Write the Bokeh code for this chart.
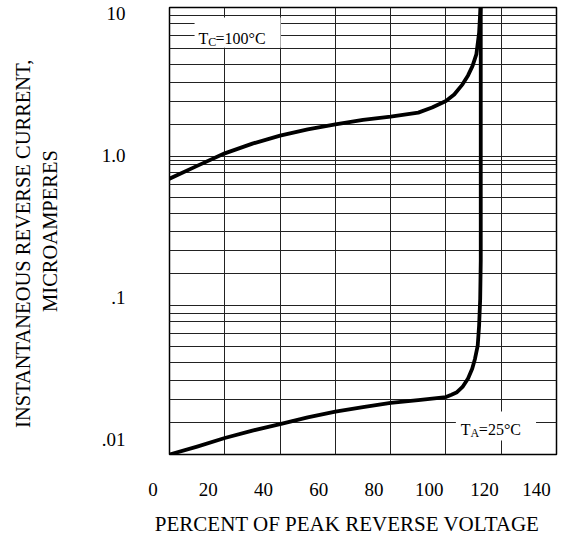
from bokeh.plotting import figure
from bokeh.models import (Range1d, LogScale, LinearAxis, LogAxis, FixedTicker, Grid,
                          BoxAnnotation, Label)
from bokeh.embed import file_html
from bokeh.resources import INLINE

# ---- data ----
tc_x = [0, 10, 20, 30, 40, 50, 60, 70, 80, 90, 95, 100, 103, 106, 108, 109.6, 111, 112, 112.5]
tc_y = [0.71, 0.865, 1.05, 1.22, 1.38, 1.52, 1.64, 1.76, 1.85, 1.97, 2.13, 2.36, 2.61, 3.05,
        3.5, 4.04, 4.84, 6.77, 10]

ta_x = [0, 10, 20, 30, 40, 50, 60, 70, 80, 90, 100, 102, 104, 106, 108, 109.5, 110.5, 111.5,
        112.0, 112.4, 112.6, 112.6]
ta_y = [0.01, 0.0113, 0.0129, 0.01445, 0.016, 0.01775, 0.0194, 0.0208, 0.0222, 0.0232, 0.0243,
        0.0252, 0.0262, 0.0284, 0.0324, 0.0376, 0.0438, 0.0538, 0.0733, 0.111, 0.2, 10]

x_ticks = [0, 20, 40, 60, 80, 100, 120, 140]
y_ticks = [0.01, 0.1, 1.0, 10.0]
y_tick_labels = [".01", ".1", "1.0", "10"]
x_grid = [20, 40, 60, 80, 100, 120]
decade_tops = [1.0, 0.1, 0.01]
decade_lines = [8.77, 7.78, 6.52, 5.27, 4.12, 3.12, 2.33, 1.63]
extra_y_lines = [0.94]

FONT = "Liberation Serif"
NB = "\u00a0"   # the original prints its axis texts a little off-centre

p = figure(x_range=Range1d(0, 140), y_range=Range1d(0.01, 10), y_axis_type="log",
           x_axis_location=None, y_axis_location=None,
           frame_width=387, frame_height=447,
           min_border_left=169, min_border_right=18, min_border_top=7, min_border_bottom=82,
           output_backend="svg", toolbar_location=None)
p.background_fill_color = "white"
p.border_fill_color = "white"
p.outline_line_color = "black"
p.outline_line_width = 1.5
p.grid.visible = False

# grid
y_grid_vals = [d for d in decade_tops[:2]] + [m * d for d in decade_tops for m in decade_lines] + extra_y_lines
p.add_layout(Grid(dimension=0, ticker=FixedTicker(ticks=x_grid),
                  grid_line_color="#222222", grid_line_width=1))
p.add_layout(Grid(dimension=1, ticker=FixedTicker(ticks=y_grid_vals),
                  grid_line_color="#222222", grid_line_width=1))

# y tick labels sit on a slightly compressed log scale, like the original
p.extra_y_ranges = {"lab": Range1d(0.00784, 11.03)}
p.extra_y_scales = {"lab": LogScale()}

xa = LinearAxis(ticker=FixedTicker(ticks=x_ticks),
                axis_label="PERCENT OF PEAK REVERSE VOLTAGE" + NB * 6)
xa.major_label_overrides = {v: f"{v}" + NB * (5 if v == 140 else 7) for v in x_ticks}
ya = LogAxis(y_range_name="lab", ticker=FixedTicker(ticks=y_ticks),
             axis_label="INSTANTANEOUS REVERSE CURRENT," + NB * 5 + "\nMICROAMPERES")
ya.major_label_overrides = {v: t for v, t in zip(y_ticks, y_tick_labels)}
for ax in (xa, ya):
    ax.axis_line_color = None
    ax.major_tick_line_color = None
    ax.minor_tick_line_color = None
    ax.major_label_text_font = FONT
    ax.major_label_text_font_size = "19px"
    ax.major_label_text_color = "black"
    ax.axis_label_text_font = FONT
    ax.axis_label_text_font_style = "normal"
    ax.axis_label_text_color = "black"
    ax.axis_label_text_line_height = 1.2
xa.axis_label_text_font_size = "21px"
ya.axis_label_text_font_size = "20.5px"
xa.major_label_standoff = 18
xa.axis_label_standoff = 9
ya.major_label_standoff = 38
ya.axis_label_standoff = 38
p.add_layout(xa, "below")
p.add_layout(ya, "left")

# label backgrounds
p.add_layout(BoxAnnotation(left=9.07, right=40.2, top=8.57, bottom=5.37,
                           fill_color="white", fill_alpha=1, line_color=None))
p.add_layout(BoxAnnotation(left=103.6, right=132.6, top=0.0194, bottom=0.0124,
                           fill_color="white", fill_alpha=1, line_color=None))

# curves
p.line(tc_x, tc_y, line_color="black", line_width=3.8, line_join="round", line_cap="round")
p.line(ta_x, ta_y, line_color="black", line_width=3.8, line_join="round", line_cap="round")

def add_label(x, y, main, sub, rest, sub_w, rest_off):
    kw = dict(x=x, y=y, text_font=FONT, text_color="black", text_baseline="alphabetic")
    p.add_layout(Label(text=main, text_font_size="16px", **kw))
    p.add_layout(Label(text=sub, text_font_size="12px", x_offset=sub_w, y_offset=-3, **kw))
    p.add_layout(Label(text=rest, text_font_size="16px", x_offset=rest_off, **kw))

add_label(10.5, 6.17, "T", "C", "=100°C", 9.6, 17)
add_label(105.4, 0.01469, "T", "A", "=25°C", 9.6, 18)

open("out.html", "w").write(file_html(p, INLINE))
